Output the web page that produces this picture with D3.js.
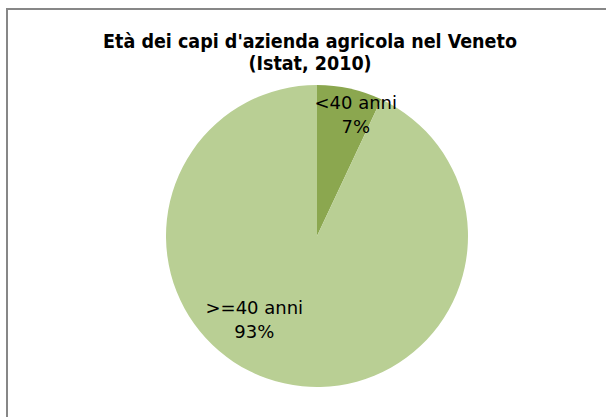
<!DOCTYPE html>
<html>
<head>
<meta charset="utf-8">
<script src="https://cdn.jsdelivr.net/npm/d3@7"></script>
<style>
  body { margin: 0; background: #fff; }
  svg { display: block; }
</style>
</head>
<body>
<div id="chart"></div>
<script>
// chart data
const categories = ["<40 anni", ">=40 anni"];
const values = [7, 93];
const colors = ["#8ba74f", "#b9cf94"];
const titleLines = ["Età dei capi d'azienda agricola nel Veneto", "(Istat, 2010)"];

const width = 606, height = 417;
const cx = 317, cy = 236, radius = 151;

// nudge labels to where the original places them (best fit)
const labelShift = [{dx: 14, dy: -16}, {dx: -38, dy: -33}];

let svg = d3.select("#chart")
    .append("svg")
    .attr("width", width)
    .attr("height", height);

// chart area border (right/bottom cut off by the frame)
svg.append("rect")
    .attr("x", 7)
    .attr("y", 9)
    .attr("width", 640)
    .attr("height", 440)
    .attr("fill", "#fff")
    .attr("stroke", "#878787")
    .attr("stroke-width", 2);

// title
svg.append("text")
    .attr("x", 310)
    .attr("y", 48)
    .attr("text-anchor", "middle")
    .style("font", "bold 19.5px 'DejaVu Sans Condensed', 'DejaVu Sans', sans-serif")
    .selectAll("tspan")
    .data(titleLines)
    .enter()
    .append("tspan")
    .attr("x", 310)
    .attr("dy", function(d, i) { return i == 0 ? 0 : 22; })
    .text(function(d) { return d; });

let pie = d3.pie().sort(null).value(function(d) { return d; });
let arcs = pie(values);

let arc = d3.arc().innerRadius(0).outerRadius(radius);
let labelArc = d3.arc().innerRadius(radius * 0.75).outerRadius(radius * 0.75);

let g = svg.append("g").attr("transform", `translate(${cx}, ${cy})`);

g.selectAll("path")
    .data(arcs)
    .enter()
    .append("path")
    .attr("d", arc)
    .attr("fill", function(d, i) { return colors[i]; });

let labels = g.selectAll("text.lbl")
    .data(arcs)
    .enter()
    .append("text")
    .attr("class", "lbl")
    .attr("text-anchor", "middle")
    .attr("transform", function(d, i) {
        let c = labelArc.centroid(d);
        return `translate(${c[0] + labelShift[i].dx}, ${c[1] + labelShift[i].dy})`;
    })
    .style("font", "18px 'DejaVu Sans', sans-serif")
    .style("fill", "#000");

labels.append("tspan")
    .attr("x", 0)
    .attr("dy", 0)
    .text(function(d, i) { return categories[i]; });

labels.append("tspan")
    .attr("x", 0)
    .attr("dy", 24)
    .text(function(d) { return d.value + "%"; });
</script>
</body>
</html>
